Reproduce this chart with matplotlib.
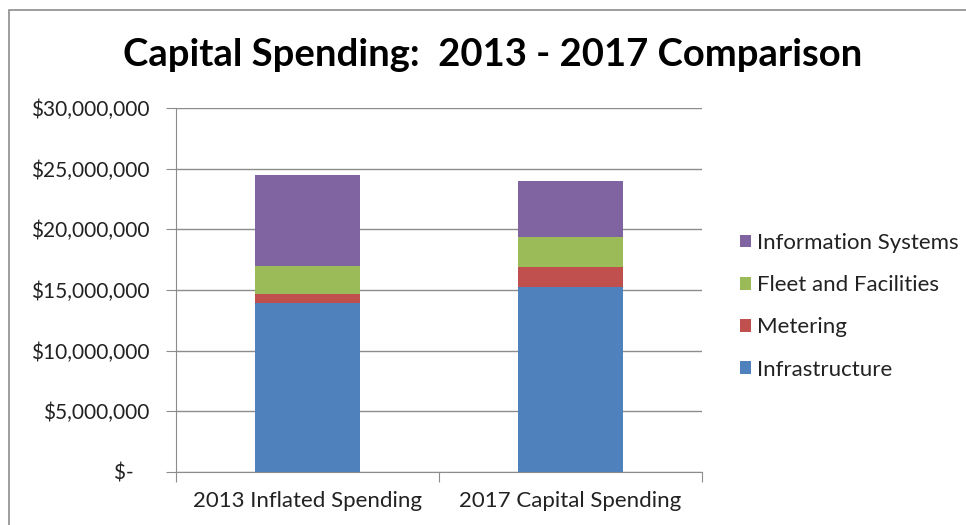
import matplotlib
matplotlib.use("Agg")
import matplotlib.pyplot as plt
from matplotlib.ticker import FuncFormatter
from matplotlib.patches import Rectangle

plt.rcParams["font.family"] = ["Lato", "DejaVu Sans"]

categories = ["2013 Inflated Spending", "2017 Capital Spending"]
infrastructure = [13.92e6, 15.21e6]
metering = [0.74e6, 1.68e6]
fleet = [2.31e6, 2.50e6]
info_systems = [7.47e6, 4.56e6]

series = [
    ("Infrastructure", infrastructure, "#4F81BD"),
    ("Metering", metering, "#C0504D"),
    ("Fleet and Facilities", fleet, "#9BBB59"),
    ("Information Systems", info_systems, "#8064A2"),
]

fig = plt.figure(figsize=(9.66, 5.25), dpi=100)
ax = fig.add_axes([176 / 966, 1 - 472 / 525, 526 / 966, 364 / 525])

# chart border like the excel chart area
fig.patches.append(Rectangle((9 / 966, -0.05), 2, 1 - 10 / 525 + 0.05, transform=fig.transFigure,
                             fill=False, edgecolor="#8c8c8c", linewidth=1.2))

x = range(len(categories))
bottom = [0, 0]
handles = []
for name, vals, col in series:
    h = ax.bar(x, vals, 0.4, bottom=bottom, color=col, label=name, zorder=3)
    handles.append(h)
    bottom = [b + v for b, v in zip(bottom, vals)]

ax.set_xlim(-0.5, 1.5)
ax.set_ylim(0, 30e6)
ax.set_yticks([i * 5e6 for i in range(7)])


def money(v, pos):
    if v == 0:
        return "$-   "
    return "${:,.0f}".format(v)


ax.yaxis.set_major_formatter(FuncFormatter(money))
ax.set_xticks([-0.5, 0.5, 1.5])
ax.set_xticklabels([])
ax.set_xticks(list(x), minor=True)
ax.set_xticklabels(categories, minor=True, fontsize=16, color="#222222")
ax.tick_params(axis="x", which="minor", length=0, pad=14)
ax.tick_params(axis="x", which="major", length=7, color="#8c8c8c", direction="out")
ax.tick_params(axis="y", length=7, color="#8c8c8c", labelsize=15, pad=12, labelcolor="#222222")

ax.grid(axis="y", color="#8c8c8c", linewidth=1, zorder=0)
for s in ["top", "right"]:
    ax.spines[s].set_visible(False)
for s in ["left", "bottom"]:
    ax.spines[s].set_color("#8c8c8c")

fig.text(493 / 966, 1 - 55 / 525, "Capital Spending:  2013 - 2017 Comparison", ha="center", va="center",
         fontsize=27.5, fontweight="bold")

fig.legend(handles[::-1], [s[0] for s in series][::-1], loc="upper left",
           bbox_to_anchor=(740 / 966, 1 - 233 / 525), frameon=False, fontsize=16,
           borderpad=0, borderaxespad=0, labelcolor="#222222",
           handlelength=0.5, handleheight=0.5, handletextpad=0.25, labelspacing=1.0)

fig.savefig("out.png", dpi=100)
